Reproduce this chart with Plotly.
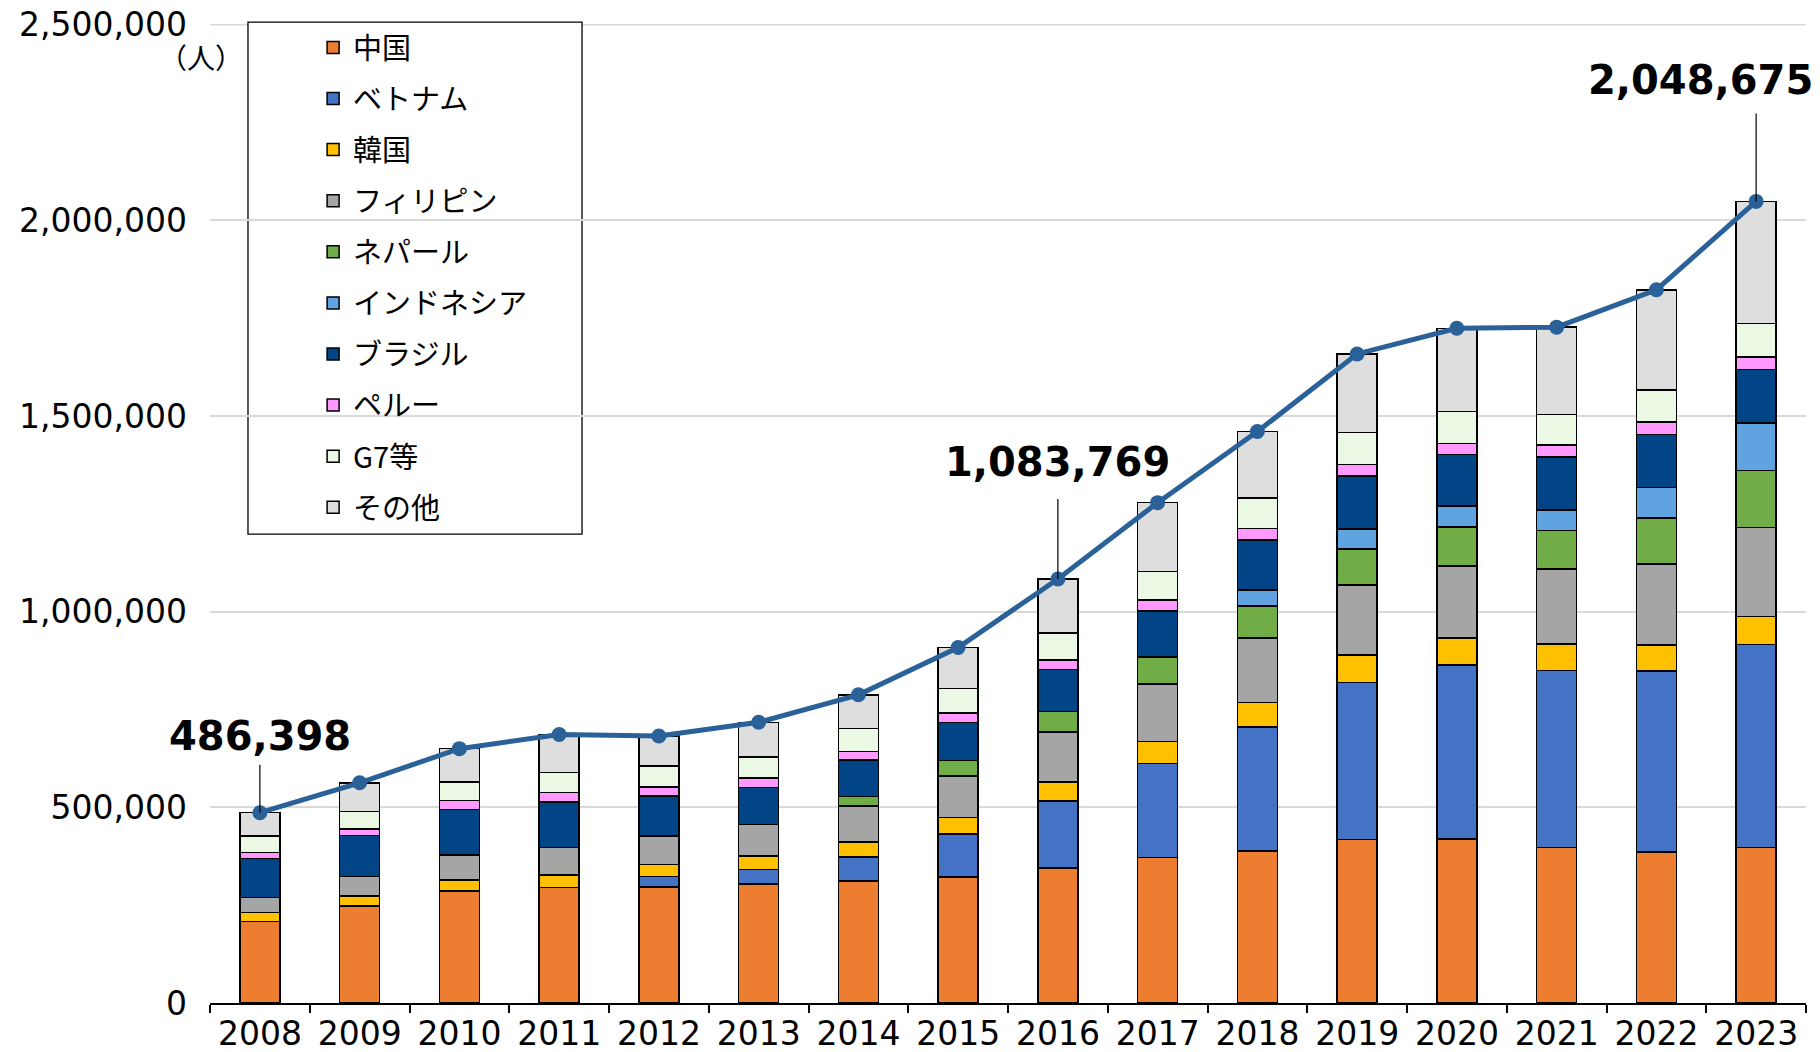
import plotly.graph_objects as go

years = ["2008", "2009", "2010", "2011", "2012", "2013", "2014", "2015",
         "2016", "2017", "2018", "2019", "2020", "2021", "2022", "2023"]

china = [207700, 248000, 286300, 295700, 296400, 303900, 311800, 322500,
         344700, 372300, 389100, 418300, 419400, 397100, 385800, 397900]
vietnam = [None, None, None, None, 26800, 37500, 61200, 110000,
           172000, 240300, 316800, 401300, 444000, 453300, 462400, 518400]
korea = [23000, 25600, 28200, 31600, 30900, 34100, 38500, 41500,
         48100, 55900, 62500, 69200, 68900, 67600, 67300, 72000]
philippines = [39000, 49600, 63300, 70000, 72900, 80200, 91500, 106500,
               127500, 146800, 164000, 179700, 184800, 191100, 206100, 226800]
nepal = [None, None, None, None, None, None, 24300, 39100,
         52800, 69100, 81600, 91800, 99600, 98300, 118200, 145600]
indonesia = [None, None, None, None, None, None, None, None,
             None, None, 41600, 51300, 53400, 52800, 77900, 121500]
brazil = [100000, 104300, 116400, 116800, 101900, 95500, 94200, 96700,
          106600, 117300, 127400, 135500, 131100, 135000, 135200, 137100]
peru = [15500, 17500, 23000, 24500, 22500, 24000, 21500, 24500,
        25300, 27700, 29100, 29600, 29100, 31400, 31500, 32000]
g7 = [41000, 45000, 47000, 51000, 53800, 53800, 58000, 62400,
      69000, 74000, 78700, 81000, 81000, 77000, 82500, 85000]
other = [60200, 72800, 85800, 96600, 77200, 88500, 86600, 105200,
         137800, 175300, 169700, 201100, 213000, 223600, 255800, 312400]
total = [486398, 562818, 649982, 686246, 682450, 717504, 787627, 908396,
         1083769, 1278670, 1460463, 1658804, 1724328, 1727221, 1822725, 2048675]

y_ticks = [0, 500000, 1000000, 1500000, 2000000, 2500000]

series_names = ["中国", "ベトナム", "韓国", "フィリピン", "ネパール",
                "インドネシア", "ブラジル", "ペルー", "G7等", "その他"]
series_values = [china, vietnam, korea, philippines, nepal,
                 indonesia, brazil, peru, g7, other]
series_colors = ["#ED7D31", "#4472C4", "#FFC000", "#A5A5A5", "#70AD47",
                 "#5FA3E0", "#024587", "#FF99FF", "#EBF8E4", "#DEDEDE"]

# labelled totals: (year, x shift px, leader length px, text lift px)
labelled = [("2008", 0, 48, 52), ("2016", 0, 80, 92), ("2023", -56, 88, 96)]

JP = "Noto Sans CJK JP, sans-serif"
NUM = "DejaVu Sans, sans-serif"

fig = go.Figure()
for i, (name, vals, col) in enumerate(zip(series_names, series_values, series_colors)):
    fig.add_trace(go.Bar(
        x=years, y=vals, name=name, legendgroup=f"g{i}",
        marker=dict(color=col, line=dict(color="black", width=1.5)),
    ))

fig.add_trace(go.Scatter(
    x=years, y=total, mode="lines+markers", showlegend=False,
    line=dict(color="#2A6199", width=5),
    marker=dict(size=15, color="#2A6199"),
))

for yr, xs, ll, lift in labelled:
    idx = years.index(yr)
    val = total[idx]
    fig.add_shape(type="line", xref="x", yref="y", x0=idx, x1=idx,
                  ysizemode="pixel", yanchor=val, y0=0, y1=ll,
                  line=dict(color="black", width=1.2), layer="above")
    fig.add_annotation(x=idx, y=val, text=f"{val:,}", showarrow=False,
                       yanchor="bottom", yshift=lift, xshift=xs,
                       font=dict(family=NUM, size=40, color="black", weight="bold"))

# top gridline (at the very edge of the plot area)
fig.add_shape(type="line", xref="paper", yref="y", x0=0, x1=1,
              y0=y_ticks[-1], y1=y_ticks[-1],
              line=dict(color="#D9D9D9", width=1.6), layer="below")

fig.add_annotation(xref="paper", yref="paper", x=-0.0056, y=0.966, xanchor="center",
                   yanchor="middle", text="（人）", showarrow=False,
                   font=dict(family=JP, size=28, color="black"))

# legend frame
fig.add_shape(type="rect", xref="paper", yref="paper",
              x0=0.0238, x1=0.2331, y0=0.479, y1=1.002,
              line=dict(color="black", width=1.3), fillcolor="white", layer="below")

# the page body adds an 8px margin, so the figure is 8px smaller each way
fig.update_layout(
    width=1812, height=1044,
    margin=dict(l=202, r=14, t=16, b=49),
    paper_bgcolor="white", plot_bgcolor="rgba(0,0,0,0)",
    barmode="stack", bargap=0.6,
    font=dict(family=JP, size=32, color="black"),
    legend=dict(x=0.0646, y=1.002, xanchor="left", yanchor="top",
                traceorder="grouped", tracegroupgap=10.4,
                bgcolor="rgba(0,0,0,0)", borderwidth=0,
                font=dict(family=JP, size=29, color="black")),
    xaxis=dict(type="category", range=[-0.5, len(years) - 0.5],
               showline=True, linecolor="black", linewidth=2,
               ticks="outside", tickson="boundaries", ticklen=8, tickwidth=1.5,
               tickcolor="black", showgrid=False, tickangle=0, automargin=False,
               ticklabeloverflow="allow",
               tickfont=dict(family=NUM, size=33, color="black")),
    yaxis=dict(range=[0, 2502000], tickvals=y_ticks,
               tickformat=",d", ticklabeloverflow="allow",
               showline=False, zeroline=False, showgrid=True, automargin=False,
               gridcolor="#D9D9D9", gridwidth=1.6, ticklabelstandoff=22,
               tickfont=dict(family=NUM, size=33, color="black")),
)

fig.write_html("out.html")
